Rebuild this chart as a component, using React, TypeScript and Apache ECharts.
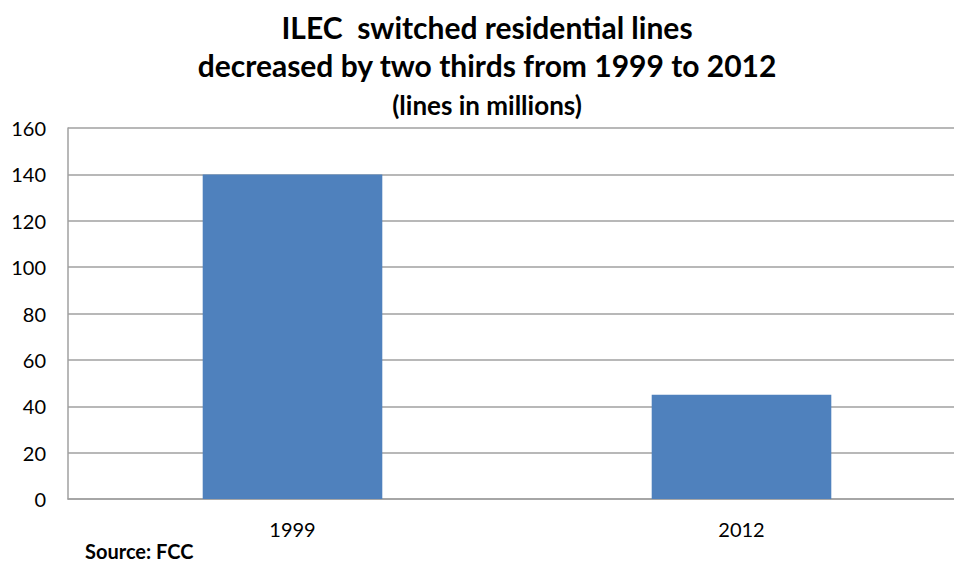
import React, { useEffect, useRef } from "react";
import * as echarts from "echarts";

const categories = ["1999", "2012"];
const lines = [140, 45];
const yTicks = { min: 0, max: 160, interval: 20 };
const titleText = "ILEC  switched residential lines\ndecreased by two thirds from 1999 to 2012";
const subtitleText = "(lines in millions)";
const sourceText = "Source: FCC";

const FONT = "Lato, 'Open Sans', sans-serif";

export default function App() {
  const ref = useRef<HTMLDivElement>(null);
  useEffect(() => {
    if (!ref.current) return;
    const chart = echarts.init(ref.current, null, { renderer: "svg" });
    chart.setOption({
      animation: false,
      backgroundColor: "#ffffff",
      title: [
        {
          text: titleText,
          left: "center",
          top: 8,
          padding: 0,
          textStyle: {
            fontFamily: FONT,
            fontWeight: "bold",
            fontSize: 30,
            lineHeight: 38,
            color: "#000000",
          },
        },
        {
          text: subtitleText,
          left: "center",
          top: 92,
          padding: 0,
          textStyle: {
            fontFamily: FONT,
            fontWeight: "bold",
            fontSize: 26,
            lineHeight: 26,
            color: "#000000",
          },
        },
        {
          text: sourceText,
          left: 85,
          top: 541,
          padding: 0,
          textStyle: {
            fontFamily: FONT,
            fontWeight: "bold",
            fontSize: 20,
            lineHeight: 20,
            color: "#000000",
          },
        },
      ],
      grid: { left: 68, top: 128, width: 898, height: 371, containLabel: false },
      xAxis: {
        type: "category",
        data: categories,
        axisLine: { show: true, lineStyle: { color: "#a0a0a0", width: 1.5 } },
        axisTick: { show: false },
        axisLabel: { fontFamily: FONT, fontSize: 20, color: "#000000", margin: 20 },
      },
      yAxis: {
        type: "value",
        min: yTicks.min,
        max: yTicks.max,
        interval: yTicks.interval,
        axisLine: { show: true, lineStyle: { color: "#a0a0a0", width: 1.5 } },
        axisTick: { show: false },
        splitLine: { lineStyle: { color: "#a0a0a0", width: 1.5 } },
        axisLabel: { fontFamily: FONT, fontSize: 20, color: "#000000", margin: 22 },
      },
      series: [
        {
          type: "bar",
          data: lines,
          barCategoryGap: "60%",
          itemStyle: { color: "#4F81BD" },
        },
      ],
    });
    return () => chart.dispose();
  }, []);
  return (
    <div
      style={{
        position: "fixed",
        left: 0,
        top: 0,
        width: 954,
        height: 562,
        overflow: "hidden",
        background: "#ffffff",
      }}
    >
      <div ref={ref} style={{ width: 974, height: 562 }} />
    </div>
  );
}
